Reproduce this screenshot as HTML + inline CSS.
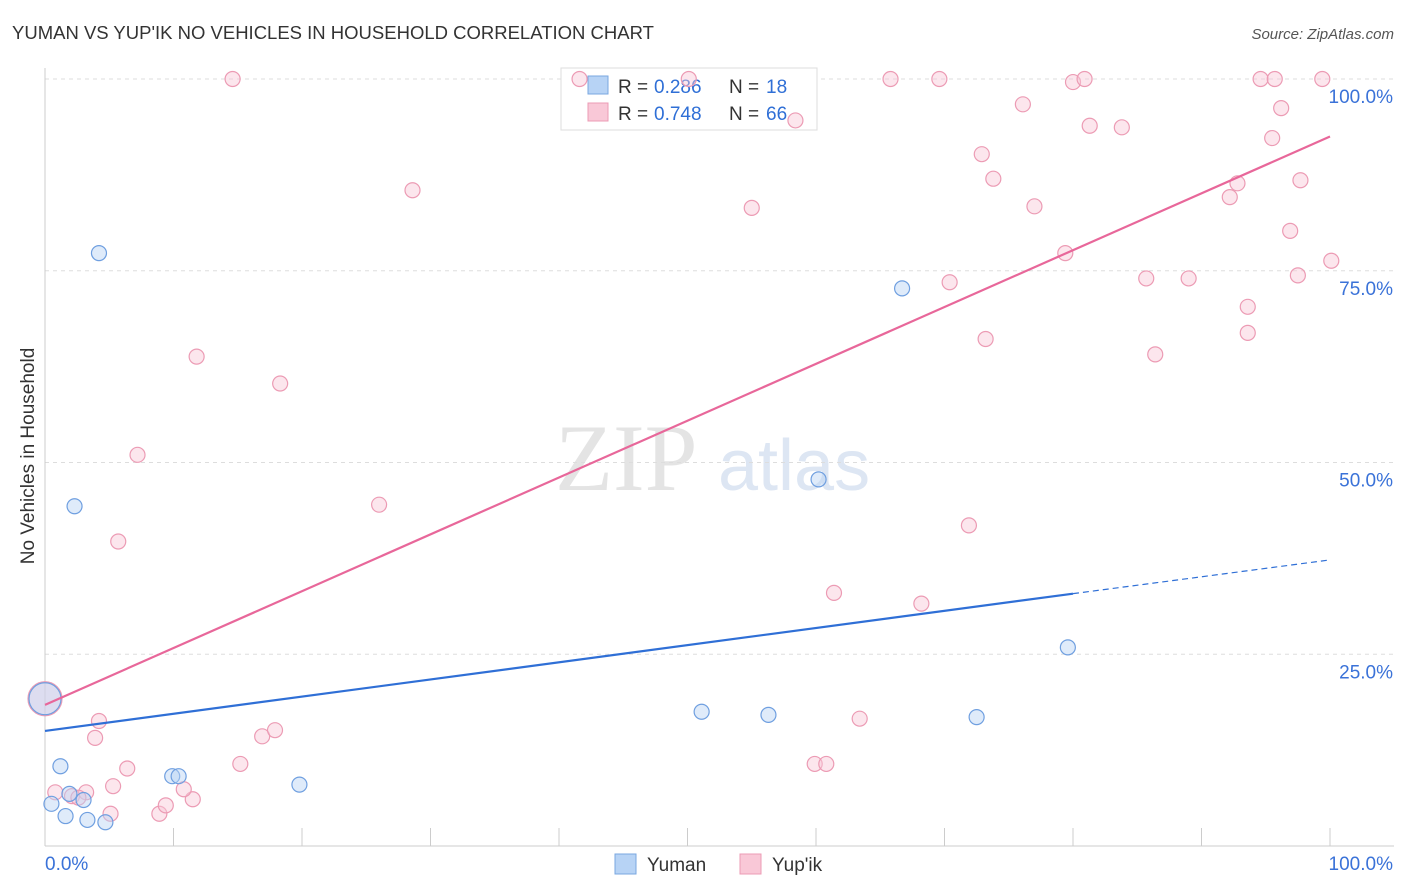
<!DOCTYPE html>
<html><head><meta charset="utf-8"><style>
body{margin:0;background:#fff;font-family:"Liberation Sans",sans-serif;}
#c{position:absolute;left:0;top:0;}
</style></head><body>
<svg id="c" width="1406" height="892" xmlns="http://www.w3.org/2000/svg">
<text x="12" y="39" font-size="18.5" fill="#333">YUMAN VS YUP'IK NO VEHICLES IN HOUSEHOLD CORRELATION CHART</text>
<text x="1394" y="39" font-size="15" fill="#555" font-style="italic" text-anchor="end">Source: ZipAtlas.com</text>
<text x="555" y="490" font-size="95" fill="#e4e4e4" font-family="Liberation Serif">ZIP</text>
<text x="718" y="490" font-size="72" fill="#dde6f3">atlas</text>
<text transform="translate(34,456) rotate(-90)" font-size="19" fill="#333" text-anchor="middle">No Vehicles in Household</text>
<g id="grid"></g>
<g>
<rect x="561" y="68" width="256" height="62" fill="#fff" stroke="#ddd"/>
<rect x="588" y="76" width="20" height="18" fill="#b7d3f5" stroke="#7aa7e0"/>
<text x="618" y="93" font-size="19" fill="#333">R =</text>
<text x="654" y="93" font-size="19" fill="#2f6fd6">0.286</text>
<text x="729" y="93" font-size="19" fill="#333">N =</text>
<text x="766" y="93" font-size="19" fill="#2f6fd6">18</text>
<rect x="588" y="103" width="20" height="18" fill="#f9c8d7" stroke="#ec9bb4"/>
<text x="618" y="120" font-size="19" fill="#333">R =</text>
<text x="654" y="120" font-size="19" fill="#2f6fd6">0.748</text>
<text x="729" y="120" font-size="19" fill="#333">N =</text>
<text x="766" y="120" font-size="19" fill="#2f6fd6">66</text>
</g>
<g id="marks"></g><g id="lines"></g>
<g>
<rect x="615" y="854" width="21" height="20" fill="#b7d3f5" stroke="#7aa7e0"/>
<text x="647" y="871" font-size="19" fill="#333">Yuman</text>
<rect x="740" y="854" width="21" height="20" fill="#f9c8d7" stroke="#ec9bb4"/>
<text x="772" y="871" font-size="19" fill="#333">Yup'ik</text>
</g>
<text x="45" y="870" font-size="19" fill="#3a72d8">0.0%</text>
<text x="1393" y="870" font-size="19" fill="#3a72d8" text-anchor="end">100.0%</text>
</svg>
<script>
const yTicks=[100,75,50,25];
const yTickLabels=["100.0%","75.0%","50.0%","25.0%"];
const yumanX=[4.2,2.3,66.7,60.2,79.6,51.1,56.3,72.5,1.2,9.9,10.4,19.8,0.5,1.9,3.0,1.6,3.3,4.7,0];
const yumanY=[77.3,44.3,72.7,47.8,25.9,17.5,17.1,16.8,10.4,9.1,9.1,8.0,5.5,6.8,6.0,3.9,3.4,3.1,19.2];
const yupikX=[14.6,41.6,50.1,28.6,11.8,18.3,7.2,26.0,5.7,4.2,3.9,16.9,17.9,15.2,6.4,5.3,3.2,0.8,2.1,2.6,5.1,8.9,9.4,11.5,10.8,58.4,55.0,65.8,69.6,80.0,80.9,76.1,81.3,83.8,72.9,73.8,77.0,79.4,70.4,73.2,71.9,61.4,68.2,63.4,59.9,60.8,94.6,95.7,99.4,96.2,95.5,92.2,92.8,97.7,96.9,85.7,89.0,97.5,100.1,93.6,93.6,86.4,0];
const yupikY=[100,100,100,85.5,63.8,60.3,51.0,44.5,39.7,16.3,14.1,14.3,15.1,10.7,10.1,7.8,7.0,7.0,6.5,6.3,4.2,4.2,5.3,6.1,7.4,94.6,83.2,100,100,99.6,100,96.7,93.9,93.7,90.2,87.0,83.4,77.3,73.5,66.1,41.8,33.0,31.6,16.6,10.7,10.7,100,100,100,96.2,92.3,84.6,86.4,86.8,80.2,74.0,74.0,74.4,76.3,70.3,66.9,64.1,19.2];
const pinkFit=[18.4,92.5];
const blueFit=[15.0,32.9,37.3];
const X=v=>45+v*12.85, Y=v=>846-v*7.67;
const NS="http://www.w3.org/2000/svg";
function mk(tag,attrs,parent){const e=document.createElementNS(NS,tag);for(const k in attrs)e.setAttribute(k,attrs[k]);parent.appendChild(e);return e;}
const grid=document.getElementById('grid');
yTicks.forEach((t,i)=>{
 const l=mk('line',{x1:45,x2:1394,y1:Y(t),y2:Y(t),stroke:'#ddd','stroke-dasharray':'4,4'},grid);
 
 
 const tx=mk('text',{x:1393,y:Y(t)+24,'font-size':19,fill:'#3a72d8','text-anchor':'end'},grid);
 tx.textContent=yTickLabels[i];
 
 
});
const ax=mk('line',{x1:45,x2:1394,y1:846,y2:846,stroke:'#ccc'},grid);


const ay=mk('line',{x1:45,x2:45,y1:68,y2:846,stroke:'#ccc'},grid);


for(let i=0;i<=10;i++){const t=mk('line',{x1:X(i*10),x2:X(i*10),y1:828,y2:846,stroke:'#ccc'},grid);
 
 }
const marks=document.getElementById('marks');
yupikX.forEach((x,i)=>{const big=(x===0&&yupikY[i]===19.2);
 const c=mk('circle',{cx:X(x),cy:Y(yupikY[i]),r:big?17:7.5,fill:'#f9c8d7','fill-opacity':0.45,stroke:'#ec9bb4','stroke-width':1.2},marks);
 
 });
yumanX.forEach((x,i)=>{const big=(x===0);
 const c=mk('circle',{cx:X(x),cy:Y(yumanY[i]),r:big?16:7.5,fill:'#b7d3f5','fill-opacity':0.45,stroke:'#6f9fe0','stroke-width':1.2},marks);
 
 });
const lines=document.getElementById('lines');
const pl=mk('line',{x1:X(0),y1:Y(pinkFit[0]),x2:X(100),y2:Y(pinkFit[1]),stroke:'#e8679a','stroke-width':2.2},lines);


const bl=mk('line',{x1:X(0),y1:Y(blueFit[0]),x2:X(80),y2:Y(blueFit[1]),stroke:'#2f6fd6','stroke-width':2.2},lines);


const bd=mk('line',{x1:X(80),y1:Y(blueFit[1]),x2:X(100),y2:Y(blueFit[2]),stroke:'#2f6fd6','stroke-width':1.2,'stroke-dasharray':'6,4'},lines);


</script>
</body></html>
